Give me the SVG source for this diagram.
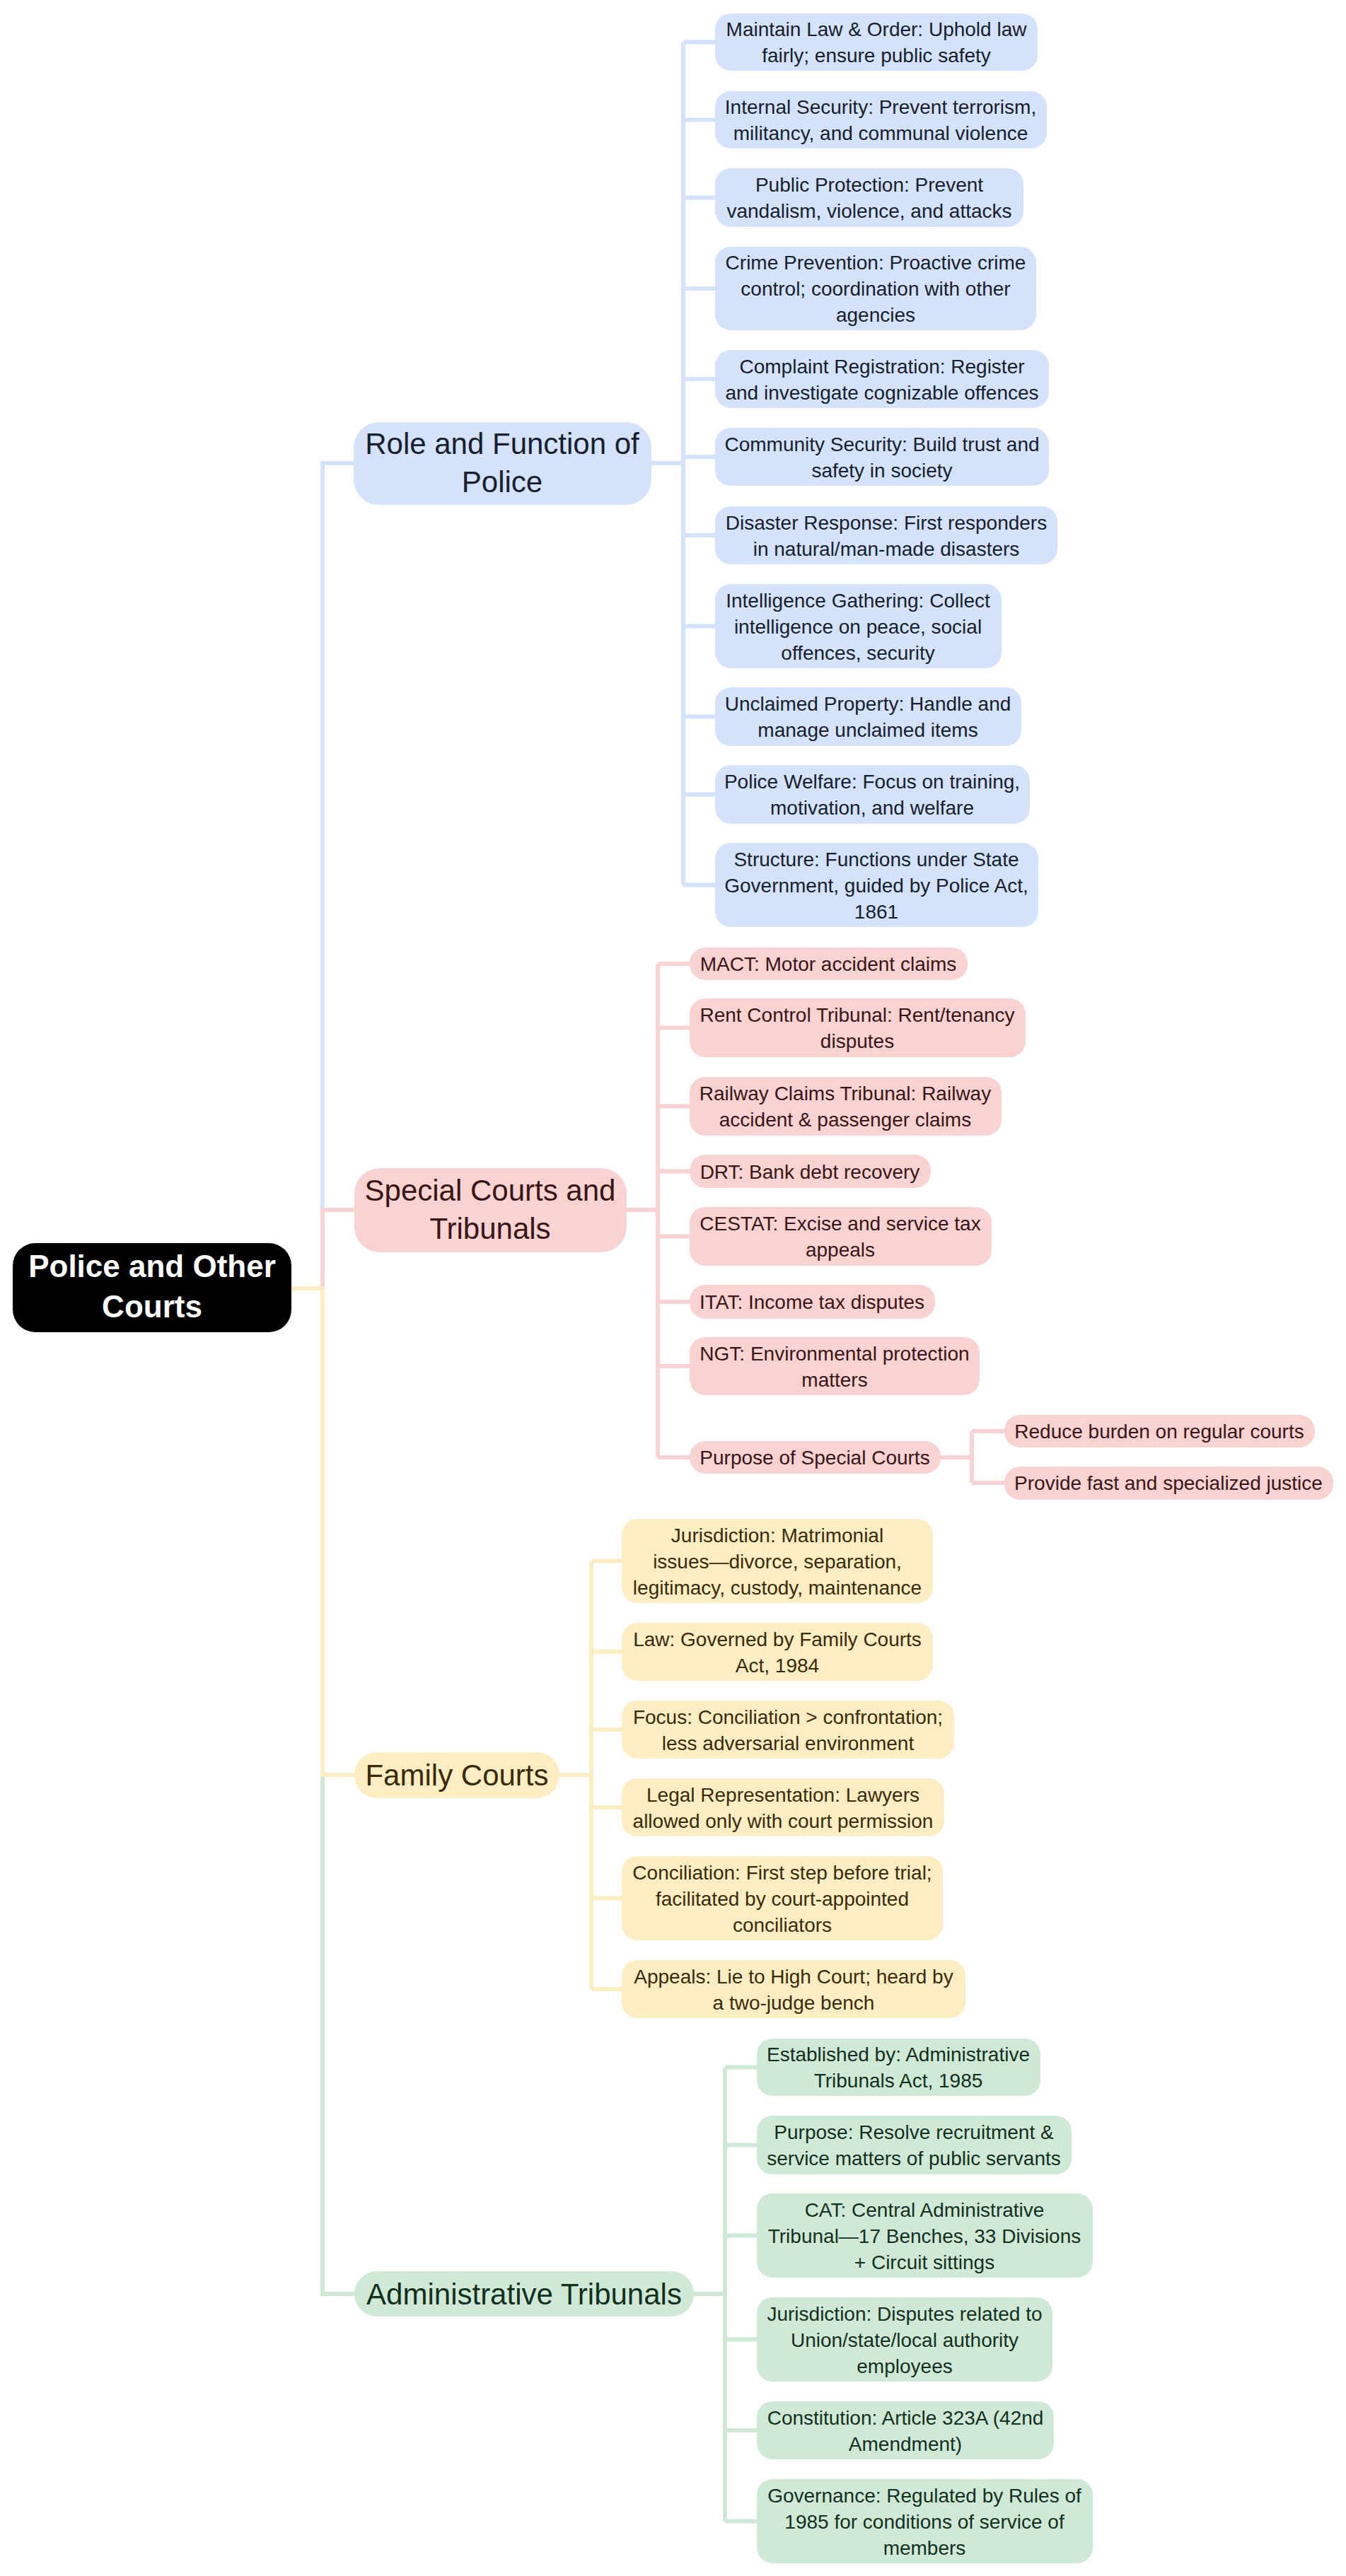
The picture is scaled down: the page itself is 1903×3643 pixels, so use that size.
<svg xmlns="http://www.w3.org/2000/svg" width="1903" height="3643" viewBox="0 0 1903 3643">
<style>
text{font-family:"Liberation Sans",Arial,sans-serif;text-anchor:middle}
.leaf{font-size:28px}
.l1{font-size:42px}
.c{fill:none;stroke-width:6}
.cb{stroke:#d4e2fb}.cp{stroke:#f8d3d1}.cy{stroke:#fdedc3}.cg{stroke:#d0e9d6}
.fb{fill:#d4e2fb}.fp{fill:#f8d3d1}.fy{fill:#fdedc3}.fg{fill:#d0e9d6}
.tb{fill:#16202e}.tp{fill:#3a1515}.ty{fill:#3a2b08}.tg{fill:#11301d}
</style>
<rect width="1903" height="3643" fill="#fff"/>
<g id="connectors">
<path class="c cg" d="M412,1822 H456 V3244 H501"/>
<path class="c cb" d="M412,1822 H456 V655 H500"/>
<path class="c cp" d="M412,1822 H456 V1711 H501"/>
<path class="c cy" d="M412,1822 H456 V2510 H501"/>
<path class="c cb" d="M921,655 H966 M966,59.5 V1251.5 M966,59.5 H1011 M966,169.5 H1011 M966,279.5 H1011 M966,408 H1011 M966,536 H1011 M966,646 H1011 M966,757 H1011 M966,885.5 H1011 M966,1013.5 H1011 M966,1123.5 H1011 M966,1251.5 H1011"/>
<path class="c cp" d="M886,1711 H930 M930,1363 V2061 M930,1363 H975 M930,1453.5 H975 M930,1564.5 H975 M930,1656.5 H975 M930,1748.5 H975 M930,1841 H975 M930,1932 H975 M930,2061 H975 M1330,2061 H1374 M1374,2024 V2097 M1374,2024 H1420 M1374,2097 H1420"/>
<path class="c cy" d="M791,2510 H836 M836,2207.5 V2813 M836,2207.5 H879 M836,2336 H879 M836,2446 H879 M836,2556 H879 M836,2684.5 H879 M836,2813 H879"/>
<path class="c cg" d="M981,3244 H1025 M1025,2923.5 V3565.5 M1025,2923.5 H1070 M1025,3033.5 H1070 M1025,3161.5 H1070 M1025,3308.5 H1070 M1025,3437 H1070 M1025,3565.5 H1070"/>
</g>
<g id="root"><rect x="18" y="1758" width="394" height="126" rx="32" fill="#000"/><text x="215" y="1806" font-size="44" font-weight="bold" fill="#fff">Police and Other</text><text x="215" y="1863" font-size="44" font-weight="bold" fill="#fff">Courts</text></g>
<g id="police"><rect class="fb" x="500" y="597" width="421" height="117" rx="36"/><text class="l1 tb" x="710" y="642">Role and Function of</text><text class="l1 tb" x="710" y="696">Police</text></g>
<g id="special"><rect class="fp" x="501" y="1652" width="385" height="119" rx="36"/><text class="l1 tp" x="693" y="1698">Special Courts and</text><text class="l1 tp" x="693" y="1752">Tribunals</text></g>
<g id="family"><rect class="fy" x="501" y="2478" width="290" height="65" rx="32"/><text class="l1 ty" x="646" y="2525">Family Courts</text></g>
<g id="admin"><rect class="fg" x="501" y="3212" width="480" height="64" rx="32"/><text class="l1 tg" x="741" y="3259">Administrative Tribunals</text></g>

<g id="p1"><rect class="fb" x="1011" y="19" width="456" height="81" rx="22"/><text class="leaf tb" x="1239" y="51">Maintain Law &amp; Order: Uphold law</text><text class="leaf tb" x="1239" y="88">fairly; ensure public safety</text></g>
<g id="p2"><rect class="fb" x="1011" y="129" width="469" height="81" rx="22"/><text class="leaf tb" x="1245" y="161">Internal Security: Prevent terrorism,</text><text class="leaf tb" x="1245" y="198">militancy, and communal violence</text></g>
<g id="p3"><rect class="fb" x="1011" y="238" width="436" height="83" rx="22"/><text class="leaf tb" x="1229" y="271">Public Protection: Prevent</text><text class="leaf tb" x="1229" y="308">vandalism, violence, and attacks</text></g>
<g id="p4"><rect class="fb" x="1011" y="349" width="454" height="118" rx="22"/><text class="leaf tb" x="1238" y="381">Crime Prevention: Proactive crime</text><text class="leaf tb" x="1238" y="418">control; coordination with other</text><text class="leaf tb" x="1238" y="455">agencies</text></g>
<g id="p5"><rect class="fb" x="1011" y="495" width="472" height="82" rx="22"/><text class="leaf tb" x="1247" y="527.5">Complaint Registration: Register</text><text class="leaf tb" x="1247" y="564.5">and investigate cognizable offences</text></g>
<g id="p6"><rect class="fb" x="1011" y="605" width="472" height="82" rx="22"/><text class="leaf tb" x="1247" y="637.5">Community Security: Build trust and</text><text class="leaf tb" x="1247" y="674.5">safety in society</text></g>
<g id="p7"><rect class="fb" x="1011" y="716" width="484" height="82" rx="22"/><text class="leaf tb" x="1253" y="748.5">Disaster Response: First responders</text><text class="leaf tb" x="1253" y="785.5">in natural/man-made disasters</text></g>
<g id="p8"><rect class="fb" x="1011" y="826" width="405" height="119" rx="22"/><text class="leaf tb" x="1213" y="858.5">Intelligence Gathering: Collect</text><text class="leaf tb" x="1213" y="895.5">intelligence on peace, social</text><text class="leaf tb" x="1213" y="932.5">offences, security</text></g>
<g id="p9"><rect class="fb" x="1011" y="972" width="433" height="83" rx="22"/><text class="leaf tb" x="1227" y="1005">Unclaimed Property: Handle and</text><text class="leaf tb" x="1227" y="1042">manage unclaimed items</text></g>
<g id="p10"><rect class="fb" x="1011" y="1082" width="445" height="83" rx="22"/><text class="leaf tb" x="1233" y="1115">Police Welfare: Focus on training,</text><text class="leaf tb" x="1233" y="1152">motivation, and welfare</text></g>
<g id="p11"><rect class="fb" x="1011" y="1192" width="457" height="119" rx="22"/><text class="leaf tb" x="1239" y="1224.5">Structure: Functions under State</text><text class="leaf tb" x="1239" y="1261.5">Government, guided by Police Act,</text><text class="leaf tb" x="1239" y="1298.5">1861</text></g>

<g id="s1"><rect class="fp" x="975" y="1340" width="393" height="46" rx="22"/><text class="leaf tp" x="1171" y="1373">MACT: Motor accident claims</text></g>
<g id="s2"><rect class="fp" x="975" y="1412" width="475" height="83" rx="22"/><text class="leaf tp" x="1212" y="1445">Rent Control Tribunal: Rent/tenancy</text><text class="leaf tp" x="1212" y="1482">disputes</text></g>
<g id="s3"><rect class="fp" x="975" y="1523" width="441" height="83" rx="22"/><text class="leaf tp" x="1195" y="1556">Railway Claims Tribunal: Railway</text><text class="leaf tp" x="1195" y="1593">accident &amp; passenger claims</text></g>
<g id="s4"><rect class="fp" x="975" y="1633" width="341" height="47" rx="22"/><text class="leaf tp" x="1145" y="1666.5">DRT: Bank debt recovery</text></g>
<g id="s5"><rect class="fp" x="975" y="1707" width="427" height="83" rx="22"/><text class="leaf tp" x="1188" y="1740">CESTAT: Excise and service tax</text><text class="leaf tp" x="1188" y="1777">appeals</text></g>
<g id="s6"><rect class="fp" x="975" y="1817" width="347" height="48" rx="22"/><text class="leaf tp" x="1148" y="1851">ITAT: Income tax disputes</text></g>
<g id="s7"><rect class="fp" x="975" y="1891" width="410" height="82" rx="22"/><text class="leaf tp" x="1180" y="1923.5">NGT: Environmental protection</text><text class="leaf tp" x="1180" y="1960.5">matters</text></g>
<g id="s8"><rect class="fp" x="975" y="2038" width="355" height="46" rx="22"/><text class="leaf tp" x="1152" y="2071">Purpose of Special Courts</text></g>
<g id="s8a"><rect class="fp" x="1420" y="2001" width="439" height="46" rx="22"/><text class="leaf tp" x="1639" y="2034">Reduce burden on regular courts</text></g>
<g id="s8b"><rect class="fp" x="1420" y="2074" width="465" height="47" rx="22"/><text class="leaf tp" x="1652" y="2107">Provide fast and specialized justice</text></g>

<g id="f1"><rect class="fy" x="879" y="2148" width="440" height="119" rx="22"/><text class="leaf ty" x="1099" y="2180.5">Jurisdiction: Matrimonial</text><text class="leaf ty" x="1099" y="2217.5">issues—divorce, separation,</text><text class="leaf ty" x="1099" y="2254.5">legitimacy, custody, maintenance</text></g>
<g id="f2"><rect class="fy" x="879" y="2295" width="440" height="82" rx="22"/><text class="leaf ty" x="1099" y="2327.5">Law: Governed by Family Courts</text><text class="leaf ty" x="1099" y="2364.5">Act, 1984</text></g>
<g id="f3"><rect class="fy" x="879" y="2405" width="470" height="82" rx="22"/><text class="leaf ty" x="1114" y="2437.5">Focus: Conciliation &gt; confrontation;</text><text class="leaf ty" x="1114" y="2474.5">less adversarial environment</text></g>
<g id="f4"><rect class="fy" x="879" y="2515" width="456" height="82" rx="22"/><text class="leaf ty" x="1107" y="2547.5">Legal Representation: Lawyers</text><text class="leaf ty" x="1107" y="2584.5">allowed only with court permission</text></g>
<g id="f5"><rect class="fy" x="879" y="2625" width="454" height="119" rx="22"/><text class="leaf ty" x="1106" y="2657.5">Conciliation: First step before trial;</text><text class="leaf ty" x="1106" y="2694.5">facilitated by court-appointed</text><text class="leaf ty" x="1106" y="2731.5">conciliators</text></g>
<g id="f6"><rect class="fy" x="879" y="2772" width="486" height="82" rx="22"/><text class="leaf ty" x="1122" y="2804.5">Appeals: Lie to High Court; heard by</text><text class="leaf ty" x="1122" y="2841.5">a two-judge bench</text></g>

<g id="a1"><rect class="fg" x="1070" y="2883" width="401" height="81" rx="22"/><text class="leaf tg" x="1270" y="2915">Established by: Administrative</text><text class="leaf tg" x="1270" y="2952">Tribunals Act, 1985</text></g>
<g id="a2"><rect class="fg" x="1070" y="2992" width="445" height="83" rx="22"/><text class="leaf tg" x="1292" y="3025">Purpose: Resolve recruitment &amp;</text><text class="leaf tg" x="1292" y="3062">service matters of public servants</text></g>
<g id="a3"><rect class="fg" x="1070" y="3102" width="475" height="119" rx="22"/><text class="leaf tg" x="1307" y="3134.5">CAT: Central Administrative</text><text class="leaf tg" x="1307" y="3171.5">Tribunal—17 Benches, 33 Divisions</text><text class="leaf tg" x="1307" y="3208.5">+ Circuit sittings</text></g>
<g id="a4"><rect class="fg" x="1070" y="3249" width="418" height="119" rx="22"/><text class="leaf tg" x="1279" y="3281.5">Jurisdiction: Disputes related to</text><text class="leaf tg" x="1279" y="3318.5">Union/state/local authority</text><text class="leaf tg" x="1279" y="3355.5">employees</text></g>
<g id="a5"><rect class="fg" x="1070" y="3396" width="420" height="82" rx="22"/><text class="leaf tg" x="1280" y="3428.5">Constitution: Article 323A (42nd</text><text class="leaf tg" x="1280" y="3465.5">Amendment)</text></g>
<g id="a6"><rect class="fg" x="1070" y="3506" width="475" height="119" rx="22"/><text class="leaf tg" x="1307" y="3538.5">Governance: Regulated by Rules of</text><text class="leaf tg" x="1307" y="3575.5">1985 for conditions of service of</text><text class="leaf tg" x="1307" y="3612.5">members</text></g>
</svg>
